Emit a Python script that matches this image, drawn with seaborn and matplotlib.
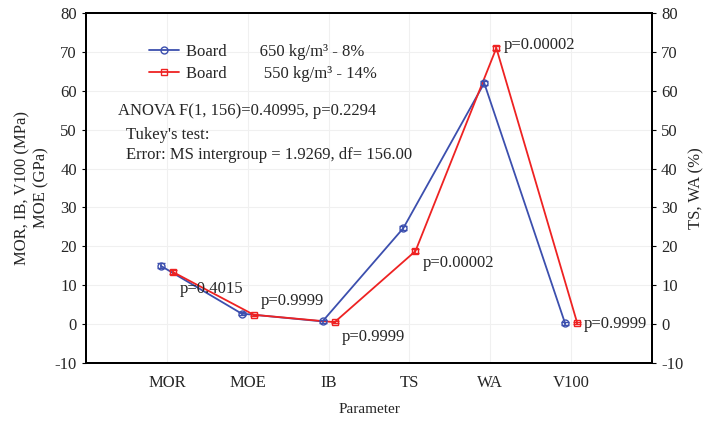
import matplotlib
matplotlib.use("Agg")
from matplotlib import pyplot as plt
from matplotlib.lines import Line2D
import numpy as np
import pandas as pd
import seaborn as sns

# data
parameters = ["MOR", "MOE", "IB", "TS", "WA", "V100"]
board_650 = [15.0, 2.7, 0.7, 24.7, 62.0, 0.2]
board_550 = [13.4, 2.4, 0.5, 18.8, 71.0, 0.3]
err_650 = [0.6, 0.3, 0.3, 0.6, 0.6, 0.3]
err_550 = [0.5, 0.3, 0.3, 0.6, 0.6, 0.3]
p_labels = ["p=0.4015", "p=0.9999", "p=0.9999", "p=0.00002", "p=0.00002", "p=0.9999"]
p_y = [9.0, 5.9, -3.4, 15.7, 71.9, 0.0]
label_650 = "Board        650 kg/m³ - 8%"
label_550 = "Board         550 kg/m³ - 14%"

sns.set_style("whitegrid")
plt.rcParams["font.family"] = ["Liberation Serif", "DejaVu Serif"]
plt.rcParams["font.size"] = 11
plt.rcParams["axes.unicode_minus"] = False

blue = "#3c4fae"
red = "#ee2222"

x = np.arange(1, len(parameters) + 1)
df = pd.DataFrame({
    "x": np.concatenate([x - 0.075, x + 0.075]),
    "value": board_650 + board_550,
    "board": [label_650] * len(x) + [label_550] * len(x),
})

fig = plt.figure(figsize=(7.09, 4.22), dpi=100)
ax = fig.add_axes([0.1213, 0.1398, 0.7983, 0.8292])

sns.lineplot(data=df, x="x", y="value", hue="board", palette=[blue, red],
             ax=ax, legend=False, linewidth=1.3, sort=False)
ax.errorbar(x - 0.075, board_650, yerr=err_650, fmt="o", ms=5, mfc="none",
            mec=blue, ecolor=blue, color=blue, capsize=3, lw=1.2)
ax.errorbar(x + 0.075, board_550, yerr=err_550, fmt="s", ms=5, mfc="none",
            mec=red, ecolor=red, color=red, capsize=3, lw=1.2)

for xi, txt, yi in zip(x, p_labels, p_y):
    ax.text(xi + 0.16, yi, txt, ha="left", va="center", fontsize=12)

ax.text(0.39, 54.9, "ANOVA F(1, 156)=0.40995, p=0.2294", fontsize=12, va="center")
ax.text(0.49, 48.7, "Tukey's test:", fontsize=12, va="center")
ax.text(0.49, 43.5, "Error: MS intergroup = 1.9269, df= 156.00", fontsize=12, va="center")

ax.set_xlim(0, 7)
ax.set_ylim(-10, 80)
ax.set_xticks(x)
ax.set_xticklabels(parameters)
ax.set_yticks(range(-10, 81, 10))
ax.set_xlabel("Parameter", fontsize=11, labelpad=9)
ax.set_ylabel("MOR, IB, V100 (MPa)\nMOE (GPa)", fontsize=12)
ax.grid(True, color="#f0f0f0", linewidth=0.8)
for s in ax.spines.values():
    s.set_color("black")
    s.set_linewidth(1.4)
ax.tick_params(axis="x", direction="in", length=4, color="black", labelsize=12, pad=8.5)
ax.tick_params(axis="y", direction="out", length=3, color="black", labelsize=12, left=True)

ax2 = ax.twinx()
ax2.set_ylim(-10, 80)
ax2.set_yticks(range(-10, 81, 10))
ax2.grid(False)
ax2.set_ylabel("TS, WA (%)", fontsize=12)
ax2.tick_params(axis="y", direction="out", length=3, color="black", labelsize=12, right=True)
for s in ax2.spines.values():
    s.set_color("black")
    s.set_linewidth(1.4)

handles = [
    Line2D([], [], color=blue, marker="o", ms=5, mfc="none", lw=1.3),
    Line2D([], [], color=red, marker="s", ms=5, mfc="none", lw=1.3),
]
ax.legend(handles, [label_650, label_550], loc="upper left",
          bbox_to_anchor=(0.085, 0.955), frameon=False, fontsize=12,
          handlelength=1.8, handletextpad=0.4, labelspacing=0.35)

fig.savefig("out.png", dpi=100)
